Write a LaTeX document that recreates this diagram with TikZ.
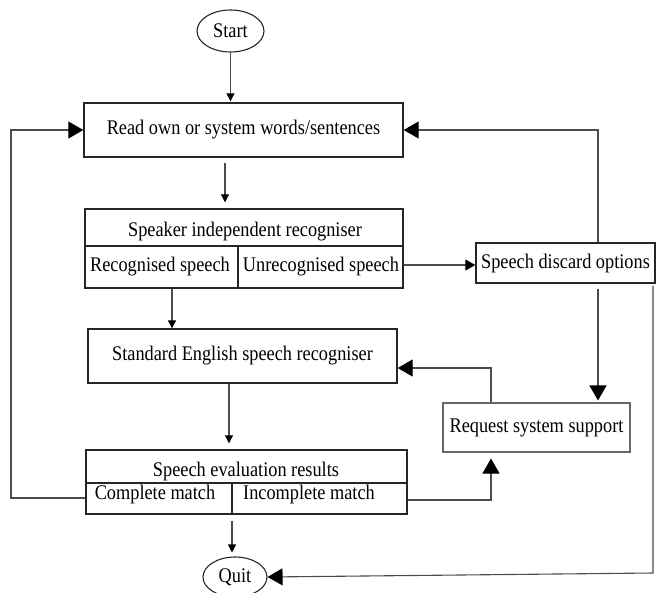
\documentclass[tikz,border=0pt]{standalone}
\usepackage{fontspec}
\setmainfont[FakeStretch=0.88]{Liberation Serif}
\usetikzlibrary{shapes.geometric,arrows.meta,calc}
\begin{document}
\begin{tikzpicture}[x=1pt,y=-1pt,
  every node/.style={font=\fontsize{20.8}{24}\selectfont, inner sep=0pt},
  box/.style={draw=black!85, line width=1.4pt, rectangle},
  term/.style={draw=black!85, line width=1.1pt, ellipse},
  lbl/.style={},
  conn/.style={draw=black!70, line width=1.1pt},
  sarrow/.style={conn, -{Triangle[length=8pt,width=8pt,color=black]}},
  marrow/.style={conn, -{Triangle[length=10pt,width=11pt,color=black]}},
  barrow/.style={conn, -{Triangle[length=15pt,width=17pt,color=black]}}]
\useasboundingbox (0,0) rectangle (656,592);
\clip (0,0) rectangle (656,592);

% nodes
\node[term, minimum width=67pt, minimum height=42pt] (start) at (230.5,31) {Start};
\node[box, minimum width=319pt, minimum height=54pt] (read) at (243.5,130) {Read own or system words/sentences};
\node[box, minimum width=318pt, minimum height=79pt] (spk) at (244,248.5) {};
\node[lbl] (spkT) at (245,232) {Speaker independent recogniser};
\node[lbl] (rec) at (160,267) {Recognised speech};
\node[lbl] (unrec) at (321,267) {Unrecognised speech};
\node[box, minimum width=179pt, minimum height=40pt] (disc) at (565.5,263) {Speech discard options};
\node[box, minimum width=309pt, minimum height=54pt] (std) at (242.5,356) {Standard English speech recogniser};
\node[box, draw=black!60, line width=1.1pt, minimum width=187pt, minimum height=49pt] (req) at (536.5,427.5) {Request system support};
\node[box, minimum width=321pt, minimum height=64pt] (eval) at (246.5,482) {};
\node[lbl] (evT) at (246,471) {Speech evaluation results};
\node[lbl] (cm) at (155,494) {Complete match};
\node[lbl] (icm) at (309,494) {Incomplete match};
\node[term, minimum width=64pt, minimum height=40pt] (quit) at (235,577) {Quit};

% dividers
\draw[draw=black!85, line width=1.1pt] (spk.west |- 0,246) -- (spk.east |- 0,246);
\draw[draw=black!85, line width=1.1pt] (238,246) -- (spk.south -| 238,0);
\draw[draw=black!85, line width=1.1pt] (eval.west |- 0,483) -- (eval.east |- 0,483);
\draw[draw=black!85, line width=1.1pt] (232,483) -- (eval.south -| 232,0);

% connectors
\draw[sarrow, shorten >=1pt] (start.south) -- (start.south |- read.north);
\draw[sarrow, shorten <=5pt, shorten >=6pt] (read.south -| 225,0) -- (spk.north -| 225,0);
\draw[marrow] (spk.east |- 0,265) -- (disc.west |- 0,265);
\draw[barrow] (disc.north -| 598,0) |- (read.east);
\draw[barrow, shorten <=5pt, shorten >=2pt] (disc.south -| 598,0) -- (req.north -| 598,0);
\draw[barrow, shorten <=2pt] (disc.south -| 653,0) -- (653,573) -- (quit.east);
\draw[barrow] (req.north -| 491,0) |- (std.east |- 0,368);
\draw[sarrow] (spk.south -| 172,0) -- (std.north -| 172,0);
\draw[sarrow, shorten >=6pt] (std.south -| 229,0) -- (eval.north -| 229,0);
\draw[barrow] (eval.west |- 0,498) -- (11,498) |- (read.west);
\draw[barrow, shorten >=6pt] (eval.east |- 0,500) -| (req.south -| 491,0);
\draw[sarrow, shorten <=6pt, shorten >=4pt] (eval.south -| 232,0) -- (quit.north -| 232,0);
\end{tikzpicture}
\end{document}
